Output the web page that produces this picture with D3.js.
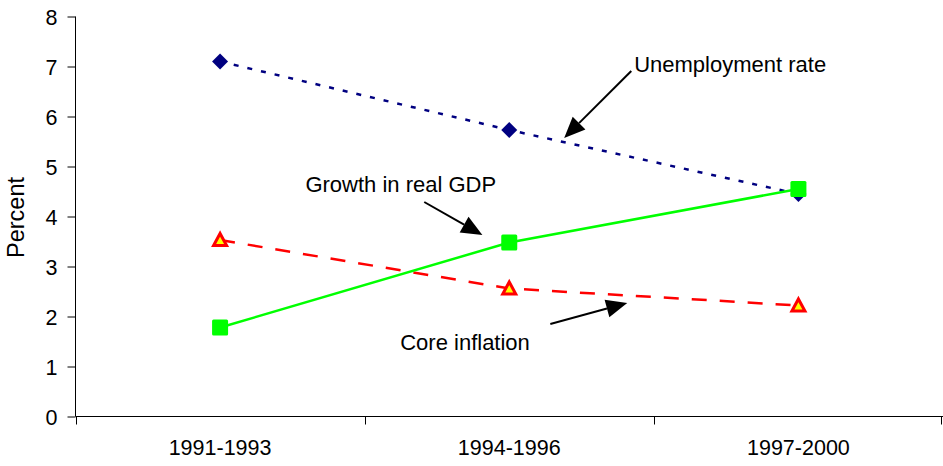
<!DOCTYPE html>
<html>
<head>
<meta charset="utf-8">
<script src="https://cdn.jsdelivr.net/npm/d3@7"></script>
<style>
  body { margin: 0; background: #fff; }
  text { font-family: "Liberation Sans", Arial, sans-serif; fill: #000; }
</style>
</head>
<body>
<div id="chart"></div>
<script>
// data
const categories = ['1991-1993', '1994-1996', '1997-2000'];
const unemployment = [7.1, 5.73, 4.45];
const gdpGrowth = [1.78, 3.48, 4.55];
const coreInflation = [3.53, 2.56, 2.22];
const yTicks = [0, 1, 2, 3, 4, 5, 6, 7, 8];

// annotations, in data units (x = category index, y = percent)
const notes = [
  { label: 'Unemployment rate', tx: 1.432, ty: 6.89, from: [1.422, 6.91], to: [1.19, 5.57] },
  { label: 'Growth in real GDP', tx: 0.295, ty: 4.49, from: [0.706, 4.29], to: [0.907, 3.63] },
  { label: 'Core inflation', tx: 0.623, ty: 1.33, from: [1.142, 1.85], to: [1.408, 2.27] }
];

const width = 943, height = 466;

const svg = d3.select('#chart').append('svg')
  .attr('width', width)
  .attr('height', height);

const x = d3.scaleBand()
  .domain(categories)
  .range([75.5, 943])
  .paddingInner(0).paddingOuter(0);

const y = d3.scaleLinear()
  .domain([0, 8])
  .range([416.5, 16.5]);

// category index -> pixel, for annotations
const xi = d3.scaleLinear()
  .domain([0, 2])
  .range([x(categories[0]) + x.bandwidth() / 2, x(categories[2]) + x.bandwidth() / 2]);

// y axis
const yAxis = svg.append('g')
  .attr('transform', 'translate(75.5,0)')
  .call(d3.axisLeft(y).tickValues(yTicks).tickSize(8).tickPadding(10).tickFormat(d3.format('d')));
yAxis.select('.domain').attr('stroke', '#000').attr('d', `M0,${y(8)}V${y(0)}`);
yAxis.selectAll('.tick line').attr('stroke', '#000');
yAxis.selectAll('.tick text')
  .style('font-size', '21.5px')
  .attr('dy', '0.36em');

// x axis: ticks at the band edges
const xAxisG = svg.append('g').attr('transform', `translate(0,${y(0)})`);
xAxisG.append('line')
  .attr('x1', 75.5).attr('x2', 943)
  .attr('stroke', '#000');
const edges = categories.map(c => x(c)).concat([x.range()[1] - 2]);
xAxisG.selectAll('.xt')
  .data(edges)
  .enter().append('line')
  .attr('x1', d => Math.round(d) + 0.5).attr('x2', d => Math.round(d) + 0.5)
  .attr('y1', 0).attr('y2', 8)
  .attr('stroke', '#000');
xAxisG.selectAll('.xl')
  .data(categories)
  .enter().append('text')
  .attr('x', d => x(d) + x.bandwidth() / 2)
  .attr('y', 38.5)
  .attr('text-anchor', 'middle')
  .style('font-size', '21.5px')
  .text(d => d);

// y label
svg.append('text')
  .attr('transform', `translate(24,${y(4) + 1}) rotate(-90)`)
  .attr('text-anchor', 'middle')
  .style('font-size', '23.5px')
  .text('Percent');

const cx = (d, i) => x(categories[i]) + x.bandwidth() / 2;
const line = d3.line().x(cx).y(d => y(d));

// unemployment: navy dotted with diamonds
svg.append('path')
  .datum(unemployment)
  .attr('d', line)
  .attr('fill', 'none')
  .attr('stroke', '#000080')
  .attr('stroke-width', 2.5)
  .attr('stroke-dasharray', '5,9');
svg.selectAll('.dia')
  .data(unemployment)
  .enter().append('path')
  .attr('d', 'M0,-8L8,0L0,8L-8,0Z')
  .attr('transform', (d, i) => `translate(${cx(d, i)},${y(d)})`)
  .attr('fill', '#000080');

// core inflation: red dashed with yellow triangles
svg.append('path')
  .datum(coreInflation)
  .attr('d', line)
  .attr('fill', 'none')
  .attr('stroke', '#ff0000')
  .attr('stroke-width', 2.5)
  .attr('stroke-dasharray', '15,13');
svg.selectAll('.tri')
  .data(coreInflation)
  .enter().append('path')
  .attr('d', 'M0,-6.5L6.5,5.5L-6.5,5.5Z')
  .attr('transform', (d, i) => `translate(${cx(d, i)},${y(d)})`)
  .attr('fill', '#ffff00')
  .attr('stroke', '#ff0000')
  .attr('stroke-width', 3)
  .attr('stroke-linejoin', 'miter');

// gdp growth: green solid with squares
svg.append('path')
  .datum(gdpGrowth)
  .attr('d', line)
  .attr('fill', 'none')
  .attr('stroke', '#00ff00')
  .attr('stroke-width', 2.5);
svg.selectAll('.sq')
  .data(gdpGrowth)
  .enter().append('rect')
  .attr('x', (d, i) => cx(d, i) - 8)
  .attr('y', d => y(d) - 8)
  .attr('width', 16).attr('height', 16)
  .attr('rx', 1.5)
  .attr('fill', '#00ff00');

// annotations
const ann = svg.append('g');
notes.forEach(n => {
  const x0 = xi(n.from[0]), y0 = y(n.from[1]);
  const x1 = xi(n.to[0]), y1 = y(n.to[1]);
  const ang = Math.atan2(y1 - y0, x1 - x0);
  const hl = 21, hw = 9;
  const bx = x1 - hl * Math.cos(ang), by = y1 - hl * Math.sin(ang);
  ann.append('line')
    .attr('x1', x0).attr('y1', y0)
    .attr('x2', bx).attr('y2', by)
    .attr('stroke', '#000').attr('stroke-width', 2);
  ann.append('path')
    .attr('d', `M${x1},${y1}L${bx - hw * Math.sin(ang)},${by + hw * Math.cos(ang)}L${bx + hw * Math.sin(ang)},${by - hw * Math.cos(ang)}Z`)
    .attr('fill', '#000');
  ann.append('text')
    .attr('x', xi(n.tx))
    .attr('y', y(n.ty))
    .style('font-size', '22px')
    .text(n.label);
});
</script>
</body>
</html>
